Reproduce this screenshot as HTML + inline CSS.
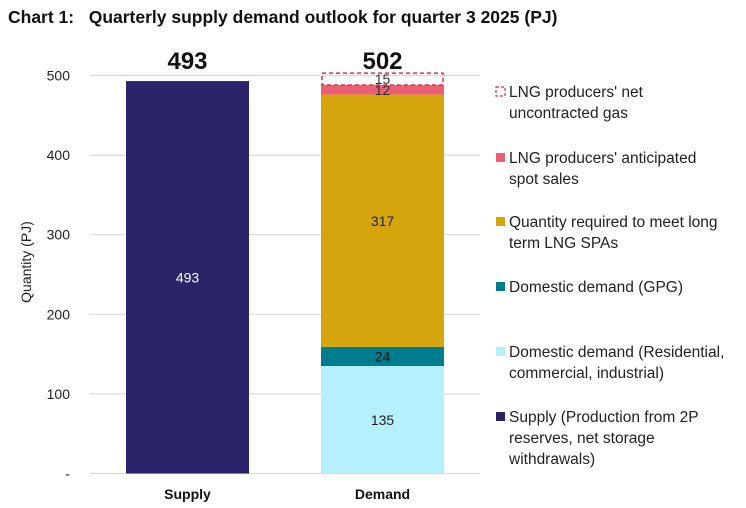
<!DOCTYPE html>
<html><head><meta charset="utf-8">
<style>
body{margin:0;background:#fff;width:746px;height:508px;overflow:hidden;font-family:"Liberation Sans",sans-serif;}
svg{display:block}
</style></head>
<body>
<svg id="chart" width="746" height="508">
<text x="8" y="23" font-size="17.5" font-weight="bold" fill="#111">Chart 1:&#160;&#160;&#160;Quarterly supply demand outlook for quarter 3 2025 (PJ)</text>
<text x="0" y="0" transform="translate(31,262) rotate(-90)" text-anchor="middle" font-size="14" fill="#222">Quantity (PJ)</text>
<g id="grid"></g><g id="bars"></g><g id="legend"></g>
</svg>
<script>
const yTicks=[0,100,200,300,400,500];
const yTickLabels=["-","100","200","300","400","500"];
const categories=["Supply","Demand"];
const totals=[493,502];
const supplyValues=[493];
const demandSegments=["Domestic demand (Residential, commercial, industrial)","Domestic demand (GPG)","Quantity required to meet long term LNG SPAs","LNG producers' anticipated spot sales","LNG producers' net uncontracted gas"];
const demandValues=[135,24,317,12,15];
const segColors=["#b6f0fc","#007c8f","#d4a50c","#ea5f75","none"];
const labelColors=["#222","#111","#222","#333","#333"];

const NS="http://www.w3.org/2000/svg";
function y(v){return 473.5-v*0.796;}
function el(tag,attrs,parent,txt){const e=document.createElementNS(NS,tag);for(const k in attrs)e.setAttribute(k,attrs[k]);if(txt!==undefined)e.textContent=txt;parent.appendChild(e);return e;}
const grid=document.getElementById('grid'),bars=document.getElementById('bars'),legend=document.getElementById('legend');
yTicks.forEach((t,i)=>{
  const l=el('line',{x1:90,x2:480,y1:y(t),y2:y(t),stroke:'#d9d9d9','stroke-width':1.2},grid);
  
  
  const tx=el('text',{x:70,y:y(t)+5,'text-anchor':'end','font-size':14,fill:'#222'},grid,yTickLabels[i]);
  
  
});
const barX=[126,321],barW=123;
const sb=el('rect',{x:barX[0],y:y(supplyValues[0]),width:barW,height:y(0)-y(supplyValues[0]),fill:'#2a246a'},bars);


const sl=el('text',{x:barX[0]+barW/2,y:(y(0)+y(supplyValues[0]))/2+5,'text-anchor':'middle','font-size':14,fill:'#fff'},bars,String(supplyValues[0]));


let cum=0;
demandValues.forEach((v,i)=>{
  const y0=y(cum),y1=y(cum+v);
  const attrs={x:barX[1],y:y1,width:barW,height:y0-y1,fill:segColors[i]};
  if(segColors[i]==='none'){attrs.x=barX[1]+1;attrs.width=barW-2;attrs.stroke='#e5323e';attrs['stroke-dasharray']='4,3';attrs['stroke-width']=1.5;}
  const r=el('rect',attrs,bars);
  
  
  const t=el('text',{x:barX[1]+barW/2,y:(y0+y1)/2+5,'text-anchor':'middle','font-size':14,fill:labelColors[i]},bars,String(v));
  
  
  cum+=v;
});
categories.forEach((c,i)=>{
  const t=el('text',{x:barX[i]+barW/2,y:499,'text-anchor':'middle','font-size':14,'font-weight':'bold',fill:'#111'},bars,c);
  
  
  const tt=el('text',{x:barX[i]+barW/2,y:69,'text-anchor':'middle','font-size':24,'font-weight':'bold',fill:'#111'},bars,String(totals[i]));
  
  
});
const legItems=[
  {lines:["LNG producers' net","uncontracted gas"],fill:'none',y:97},
  {lines:["LNG producers' anticipated","spot sales"],fill:'#ea5f75',y:163},
  {lines:["Quantity required to meet long","term LNG SPAs"],fill:'#d4a50c',y:227},
  {lines:["Domestic demand (GPG)"],fill:'#007c8f',y:292},
  {lines:["Domestic demand (Residential,","commercial, industrial)"],fill:'#b6f0fc',y:357},
  {lines:["Supply (Production from 2P","reserves, net storage","withdrawals)"],fill:'#2a246a',y:422}
];
legItems.forEach((it,i)=>{
  const a={x:496,y:it.y-10,width:9,height:9,fill:it.fill};
  if(it.fill==='none'){a.stroke='#e5323e';a['stroke-dasharray']='3,2';a['stroke-width']=1.3;}
  const r=el('rect',a,legend);
  
  
  it.lines.forEach((ln,j)=>{
    const t=el('text',{x:509,y:it.y+j*21,'font-size':15.5,fill:'#222'},legend,ln);
    
    
  });
});
</script>
</body></html>
